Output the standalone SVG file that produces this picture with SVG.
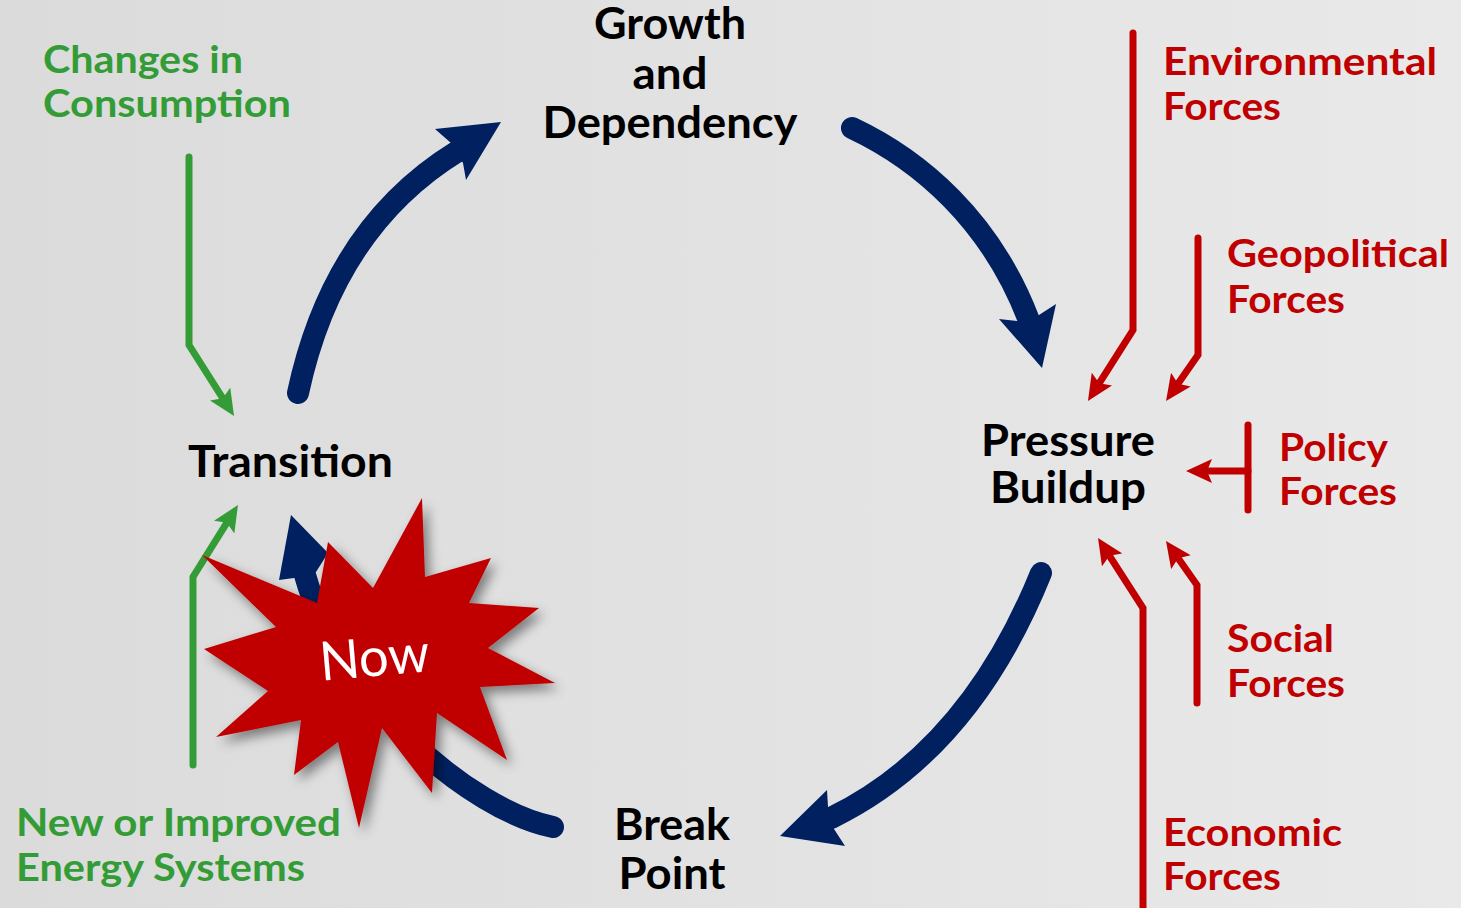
<svg xmlns="http://www.w3.org/2000/svg" width="1461" height="908" viewBox="0 0 1461 908">
<style>
.lbl{font-family:Lato,"Open Sans","Liberation Sans",sans-serif;font-weight:bold;}
.blk{font-size:43px;fill:#000;text-anchor:middle;}
.grn{font-size:38.5px;fill:#349c36;}
.red{font-size:38.5px;fill:#c00000;}
.now{font-family:Lato,"Open Sans","Liberation Sans",sans-serif;font-size:54px;fill:#fff;text-anchor:middle;}
.bl{fill:none;stroke:#002060;stroke-width:22;stroke-linecap:round;}
.bh{fill:#002060;}
.rl{fill:none;stroke:#c00000;stroke-width:7;stroke-linecap:round;stroke-linejoin:miter;}
.gl{fill:none;stroke:#349c36;stroke-width:7;stroke-linecap:round;stroke-linejoin:miter;}
</style>
<defs>
<linearGradient id="bg" x1="0" y1="0" x2="1" y2="0">
<stop offset="0" stop-color="#dbdbdb"/>
<stop offset="1" stop-color="#e9e9e9"/>
</linearGradient>
<marker id="ra" markerUnits="userSpaceOnUse" viewBox="0 0 26 24" markerWidth="26" markerHeight="24" refX="14" refY="12" orient="auto">
<path d="M0,0 L26,12 L0,24 L5,12 z" fill="#c00000"/>
</marker>
<marker id="ga" markerUnits="userSpaceOnUse" viewBox="0 0 26 24" markerWidth="26" markerHeight="24" refX="14" refY="12" orient="auto">
<path d="M0,0 L26,12 L0,24 L5,12 z" fill="#349c36"/>
</marker>
<filter id="sh" x="-20%" y="-20%" width="150%" height="150%">
<feDropShadow dx="5" dy="6" stdDeviation="6" flood-color="#000" flood-opacity="0.45"/>
</filter>
</defs>
<rect x="0" y="0" width="1461" height="908" fill="url(#bg)"/>

<g id="connectors">
<path class="bl" d="M298,393 C320,290 370,205 458,151"/>
<polygon class="bh" points="501,122 435,129 451,143 463,163 466,180"/>
<path class="bl" d="M852,128 C920,160 990,220 1028,318"/>
<polygon class="bh" points="1042,368 999,319 1017,321 1039,315 1056,304"/>
<path class="bl" d="M1041,573 C1010,650 950,760 831,818"/>
<polygon class="bh" points="780,836 827,790 828,807 834,829 845,846"/>
<path class="bl" d="M553,827 C470,810 340,700 305,575"/>
<polygon class="bh" points="291,515 279,580 294,578 316,572 328,553"/>

<polyline class="rl" points="1133,33 1133,330 1094.4,390.9" marker-end="url(#ra)"/>
<polyline class="rl" points="1198,238 1198,355 1172.9,391.1" marker-end="url(#ra)"/>
<line class="rl" x1="1248" y1="425" x2="1248" y2="510"/>
<line class="rl" x1="1248" y1="471" x2="1198" y2="471" marker-end="url(#ra)"/>
<polyline class="rl" points="1197,703 1197,585 1172.9,550.8" marker-end="url(#ra)"/>
<polyline class="rl" points="1143,912 1143,608 1104.5,548.1" marker-end="url(#ra)"/>

<polyline class="gl" points="189,157 189,345 227.6,405.9" marker-end="url(#ga)"/>
<polyline class="gl" points="193,765 193,577 231.6,515.2" marker-end="url(#ga)"/>
</g>

<g id="growth">
<text class="lbl blk" x="670" y="39" textLength="152" lengthAdjust="spacingAndGlyphs">Growth</text>
<text class="lbl blk" x="670" y="89" textLength="75" lengthAdjust="spacingAndGlyphs">and</text>
<text class="lbl blk" x="670" y="138" textLength="255" lengthAdjust="spacingAndGlyphs">Dependency</text>
</g>
<g id="pressure">
<text class="lbl blk" x="1068" y="456" textLength="174" lengthAdjust="spacingAndGlyphs">Pressure</text>
<text class="lbl blk" x="1068" y="503" textLength="156" lengthAdjust="spacingAndGlyphs">Buildup</text>
</g>
<g id="breakpoint">
<text class="lbl blk" x="672" y="840" textLength="116" lengthAdjust="spacingAndGlyphs">Break</text>
<text class="lbl blk" x="672" y="889" textLength="107" lengthAdjust="spacingAndGlyphs">Point</text>
</g>
<g id="transition">
<text class="lbl blk" x="290.5" y="477" textLength="205" lengthAdjust="spacingAndGlyphs">Transition</text>
</g>

<g id="consumption">
<text class="lbl grn" x="43" y="73" textLength="200" lengthAdjust="spacingAndGlyphs">Changes in</text>
<text class="lbl grn" x="43" y="117" textLength="248" lengthAdjust="spacingAndGlyphs">Consumption</text>
</g>
<g id="energy">
<text class="lbl grn" x="16" y="836" textLength="325" lengthAdjust="spacingAndGlyphs">New or Improved</text>
<text class="lbl grn" x="16" y="881" textLength="289" lengthAdjust="spacingAndGlyphs">Energy Systems</text>
</g>
<g id="environmental">
<text class="lbl red" x="1163" y="75" textLength="274" lengthAdjust="spacingAndGlyphs">Environmental</text>
<text class="lbl red" x="1163" y="120" textLength="118" lengthAdjust="spacingAndGlyphs">Forces</text>
</g>
<g id="geopolitical">
<text class="lbl red" x="1227" y="267" textLength="222" lengthAdjust="spacingAndGlyphs">Geopolitical</text>
<text class="lbl red" x="1227" y="313" textLength="118" lengthAdjust="spacingAndGlyphs">Forces</text>
</g>
<g id="policy">
<text class="lbl red" x="1279" y="461" textLength="109" lengthAdjust="spacingAndGlyphs">Policy</text>
<text class="lbl red" x="1279" y="505" textLength="118" lengthAdjust="spacingAndGlyphs">Forces</text>
</g>
<g id="social">
<text class="lbl red" x="1227" y="652" textLength="107" lengthAdjust="spacingAndGlyphs">Social</text>
<text class="lbl red" x="1227" y="697" textLength="118" lengthAdjust="spacingAndGlyphs">Forces</text>
</g>
<g id="economic">
<text class="lbl red" x="1163" y="846" textLength="179" lengthAdjust="spacingAndGlyphs">Economic</text>
<text class="lbl red" x="1163" y="890" textLength="118" lengthAdjust="spacingAndGlyphs">Forces</text>
</g>

<g id="now">
<polygon fill="#c00000" filter="url(#sh)" points="422,498 425,577 491,558 469,603 539,608 488,648 555,683 480,687 507,760 437,713 432,793 382,728 359,828 338,742 294,775 301,720 216,737 268,691 204,649 276,627 202,555 317,603 328,542 373,588"/>
<text class="now" x="376" y="676" transform="rotate(-5 376 676)" textLength="110" lengthAdjust="spacingAndGlyphs">Now</text>
</g>
</svg>
